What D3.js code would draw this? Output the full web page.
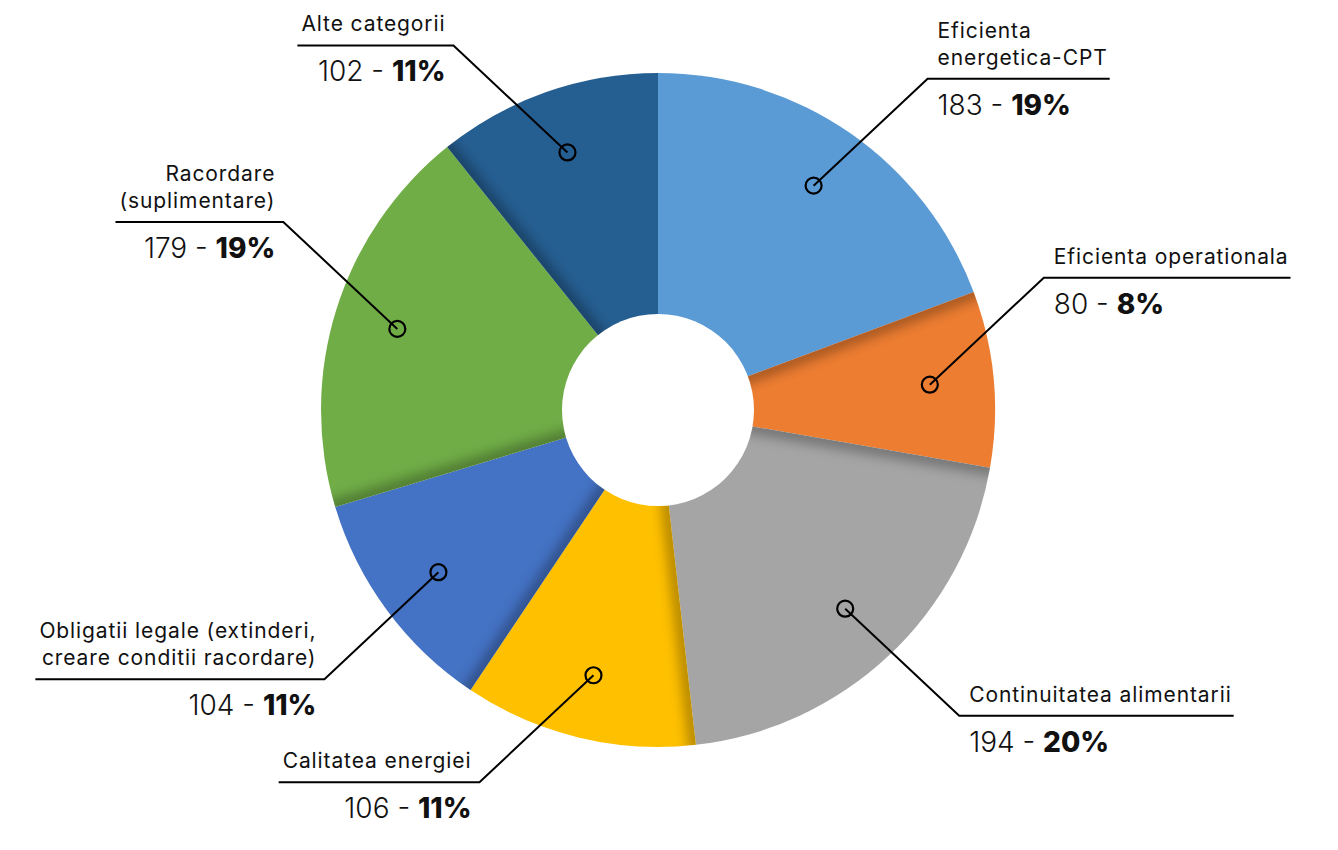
<!DOCTYPE html>
<html>
<head>
<meta charset="utf-8">
<script src="https://cdn.jsdelivr.net/npm/d3@7"></script>
<style>
  html, body { margin: 0; padding: 0; background: #fff; }
  svg { display: block; font-family: "Inter", "Open Sans", sans-serif; }
  .lbl { font-size: 21px; fill: #111; letter-spacing: 0.9px; }
  .val { font-size: 28px; fill: #111; font-weight: 300; }
  .val .pct { font-weight: 800; }
</style>
</head>
<body>
<svg id="chart"></svg>
<script>
// categories, clockwise from 12 o'clock
const categories = [
  "Eficienta energetica-CPT",
  "Eficienta operationala",
  "Continuitatea alimentarii",
  "Calitatea energiei",
  "Obligatii legale (extinderi, creare conditii racordare)",
  "Racordare (suplimentare)",
  "Alte categorii"
];
const values = [183, 80, 194, 106, 104, 179, 102];
// how each category label wraps
const labelLines = [
  ["Eficienta", "energetica-CPT"],
  ["Eficienta operationala"],
  ["Continuitatea alimentarii"],
  ["Calitatea energiei"],
  ["Obligatii legale (extinderi,", "creare conditii racordare)"],
  ["Racordare", "(suplimentare)"],
  ["Alte categorii"]
];
const colors = ["#5B9BD5", "#ED7D31", "#A5A5A5", "#FFC000", "#4472C4", "#70AD47", "#255E91"];

const width = 1338, height = 850;
const cx = 658, cy = 410;
const outerR = 337, innerR = 96;
const dotR = 273;

const svg = d3.select("#chart").attr("width", width).attr("height", height);
const defs = svg.append("defs");

defs.append("filter")
  .attr("id", "soft")
  .attr("x", "-50%").attr("y", "-50%").attr("width", "200%").attr("height", "200%")
  .append("feGaussianBlur")
  .attr("stdDeviation", 7);

const total = d3.sum(values);
const pie = d3.pie().sort(null).value((d) => d.value);
const arcs = pie(categories.map((c, i) => ({ name: c, value: values[i], i })));
const arc = d3.arc().innerRadius(0).outerRadius(outerR);

const g = svg.append("g").attr("transform", `translate(${cx},${cy})`);

// Slices
const slices = g.selectAll(".slice")
  .data(arcs)
  .enter()
  .append("g")
  .attr("class", "slice");

slices.append("clipPath")
  .attr("id", (d) => `clip-${d.index}`)
  .append("path")
  .attr("d", arc);

slices.append("path")
  .attr("d", arc)
  .attr("fill", (d) => colors[d.index]);

// Soft shadow along the edges where the neighbouring slice overlaps
const edgePt = (a, r) => [r * Math.sin(a), -r * Math.cos(a)];
slices.each(function (d) {
  const edges = [];
  if (d.index > 0) edges.push(d.startAngle);
  if (d.index === arcs.length - 1) edges.push(d.endAngle);
  const sg = d3.select(this).append("g").attr("clip-path", `url(#clip-${d.index})`);
  edges.forEach((a) => {
    const p0 = edgePt(a, innerR - 10);
    const p1 = edgePt(a, outerR + 10);
    sg.append("line")
      .attr("x1", p0[0]).attr("y1", p0[1])
      .attr("x2", p1[0]).attr("y2", p1[1])
      .attr("stroke", "#000")
      .attr("stroke-opacity", 0.45)
      .attr("stroke-width", 10)
      .attr("filter", "url(#soft)");
  });
});

// Hole
g.append("circle").attr("r", innerR).attr("fill", "#fff");

// Labels with leader lines
const labels = g.selectAll(".label")
  .data(arcs)
  .enter()
  .append("g")
  .attr("class", "label");

labels.each(function (d) {
  const sel = d3.select(this);
  const mid = (d.startAngle + d.endAngle) / 2;
  const [dx, dy] = edgePt(mid, dotR);
  const right = dx > 0;
  const up = dy < 0;
  const ex = dx + (right ? 114 : -114);
  const ey = dy + (up ? -107 : 107);
  const anchor = right ? "start" : "end";
  const tx = ex + (right ? 10 : -8);

  const lines = labelLines[d.index];
  const txt = sel.append("text")
    .attr("class", "lbl")
    .attr("text-anchor", anchor);
  lines.forEach((l, k) => {
    txt.append("tspan")
      .attr("x", tx)
      .attr("y", ey - 14 - (lines.length - 1 - k) * 27)
      .text(l);
  });

  const pct = Math.round((d.value / total) * 100);
  const val = sel.append("text")
    .attr("class", "val")
    .attr("text-anchor", anchor)
    .attr("x", tx)
    .attr("y", ey + 36);
  val.append("tspan").text(`${d.value} - `);
  val.append("tspan").attr("class", "pct").text(`${pct}%`);

  const w = Math.max(txt.node().getBBox().width, val.node().getBBox().width) + 12;
  const hx = ex + (right ? w : -w);

  sel.append("path")
    .attr("d", d3.line()([[dx, dy], [ex, ey], [hx, ey]]))
    .attr("fill", "none")
    .attr("stroke", "#000")
    .attr("stroke-width", 2);

  sel.append("circle")
    .attr("cx", dx)
    .attr("cy", dy)
    .attr("r", 8)
    .attr("fill", "none")
    .attr("stroke", "#000")
    .attr("stroke-width", 2.2);
});
</script>
</body>
</html>
